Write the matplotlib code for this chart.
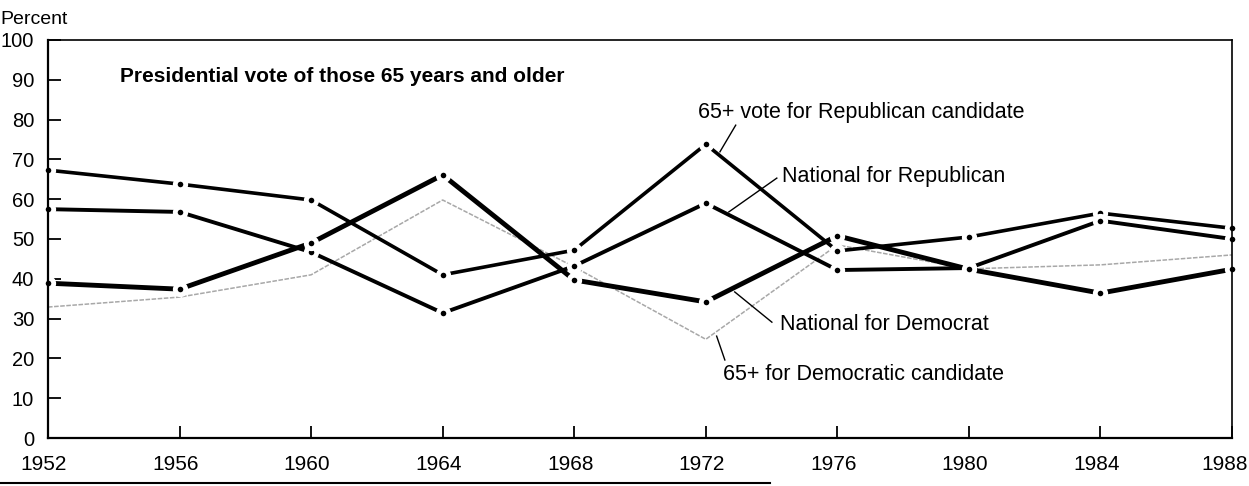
import matplotlib.pyplot as plt
import matplotlib.transforms as mtransforms
from matplotlib.lines import Line2D

plt.rcParams['font.family'] = ['Liberation Sans', 'DejaVu Sans']

# data
years = [1952, 1956, 1960, 1964, 1968, 1972, 1976, 1980, 1984, 1988]
rep_65 = [67.3, 63.8, 59.8, 41.0, 47.2, 73.8, 47.0, 50.5, 56.5, 52.7]
rep_nat = [57.5, 56.8, 46.7, 31.4, 43.2, 59.0, 42.2, 42.7, 54.6, 50.0]
dem_nat = [38.9, 37.4, 49.0, 66.1, 39.7, 34.2, 50.8, 42.4, 36.4, 42.4]
dem_65 = [32.9, 35.4, 41.0, 59.8, 43.0, 24.8, 48.5, 42.5, 43.5, 46.0]

fig = plt.figure(figsize=(12.49, 4.86), dpi=100)
ax = fig.add_axes([48 / 1249, 48 / 486, 1184 / 1249, 398 / 486])

# gray dotted line, no dots
ax.plot(years, dem_65, color='#a8a8a8', lw=1.1, ls=(0, (3, 1)), zorder=1.5)


def gapped(y, lw):
    # line broken at each point with a small dot
    ax.plot(years, y, color='black', lw=lw, solid_capstyle='butt', zorder=2)
    ax.plot(years, y, ls='none', marker='o', ms=11, mfc='white', mec='none',
            zorder=2, clip_on=False)
    ax.plot(years, y, ls='none', marker='o', ms=4, mfc='black', mec='none',
            zorder=2, clip_on=False)


gapped(rep_65, 2.6)
gapped(rep_nat, 2.8)
gapped(dem_nat, 3.5)

ax.set_xlim(1952, 1988)
ax.set_ylim(0, 100)
ax.set_xticks(years)
ax.set_yticks(range(0, 101, 10))
ax.tick_params(axis='both', direction='in', length=9, width=1.3, color='black')
ax.tick_params(axis='y', pad=10, labelsize=14.5)
ax.tick_params(axis='x', pad=12, labelsize=15)
for s in ['left', 'bottom']:
    ax.spines[s].set_linewidth(1.6)
for s in ['top', 'right']:
    ax.spines[s].set_linewidth(1.2)

# x labels sit a little left of their ticks
labels = ax.get_xticklabels()
for i, lab in enumerate(labels):
    dx = -7 if i == len(labels) - 1 else -4
    lab.set_transform(lab.get_transform() +
                      mtransforms.ScaledTranslation(dx / 100, 0, fig.dpi_scale_trans))

ax.text(1954.2, 89.4, 'Presidential vote of those 65 years and older',
        fontsize=15, fontweight='bold', va='baseline')

fs = 15.5
ax.text(1971.76, 80.4, '65+ vote for Republican candidate', fontsize=fs, va='baseline')
ax.plot([1972.91, 1972.43], [78.6, 71.9], color='black', lw=1.0)
ax.text(1974.31, 64.3, 'National for Republican', fontsize=fs, va='baseline')
ax.plot([1974.16, 1972.70], [65.3, 56.8], color='black', lw=1.0)
ax.text(1974.25, 27.1, 'National for Democrat', fontsize=fs, va='baseline')
ax.plot([1974.01, 1972.88], [29.1, 36.7], color='black', lw=1.0)
ax.text(1972.52, 14.6, '65+ for Democratic candidate', fontsize=fs, va='baseline')
ax.plot([1972.58, 1972.33], [19.6, 25.6], color='black', lw=1.0)

fig.text(0.0, 1 - 24 / 486, 'Percent', fontsize=14, va='baseline')
fig.add_artist(Line2D([0, 770 / 1249], [3 / 486, 3 / 486], color='black', lw=1.5))

fig.savefig('out.png', dpi=100)
